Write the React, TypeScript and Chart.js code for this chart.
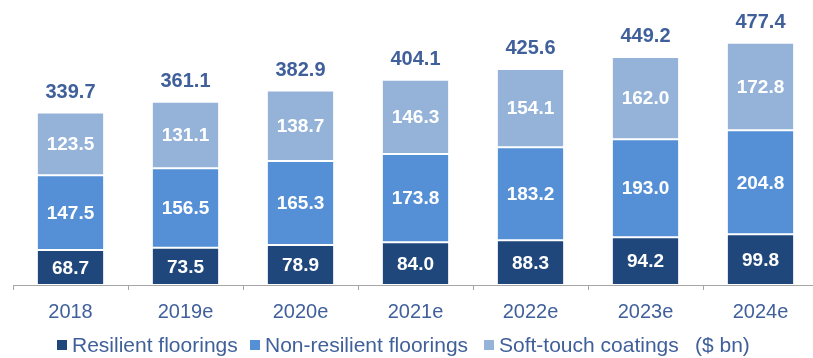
import React, { useEffect, useRef } from "react";
import { Chart, registerables } from "chart.js";

Chart.register(...registerables);

const categories = ["2018", "2019e", "2020e", "2021e", "2022e", "2023e", "2024e"];
const resilient = [68.7, 73.5, 78.9, 84.0, 88.3, 94.2, 99.8];
const nonResilient = [147.5, 156.5, 165.3, 173.8, 183.2, 193.0, 204.8];
const softTouch = [123.5, 131.1, 138.7, 146.3, 154.1, 162.0, 172.8];
const totals = [339.7, 361.1, 382.9, 404.1, 425.6, 449.2, 477.4];
const seriesNames = ["Resilient floorings", "Non-resilient floorings", "Soft-touch coatings"];
const unitLabel = "($ bn)";

const COLORS = ["#1F477B", "#5590D6", "#95B3D8"];
const TEXT = "#40609B";
const FONT = "'Liberation Sans', Arial, sans-serif";

const labelPlugin = {
  id: "valueLabels",
  afterDatasetsDraw(chart: any) {
    const ctx = chart.ctx;
    ctx.save();
    ctx.textAlign = "center";
    ctx.textBaseline = "middle";
    chart.data.datasets.forEach((ds: any, di: number) => {
      const meta = chart.getDatasetMeta(di);
      meta.data.forEach((el: any, i: number) => {
        const v = ds.data[i];
        ctx.fillStyle = "#FFFFFF";
        ctx.font = `bold 19px ${FONT}`;
        ctx.fillText(v.toFixed(1), el.x, (el.y + el.base) / 2 + 1);
      });
    });
    const last = chart.getDatasetMeta(chart.data.datasets.length - 1);
    last.data.forEach((el: any, i: number) => {
      ctx.fillStyle = TEXT;
      ctx.font = `bold 20px ${FONT}`;
      ctx.fillText(totals[i].toFixed(1), el.x, el.y - 20);
    });
    ctx.restore();
  },
};

export default function App() {
  const ref = useRef<HTMLCanvasElement>(null);
  useEffect(() => {
    if (!ref.current) return;
    const chart = new Chart(ref.current, {
      type: "bar",
      data: {
        labels: categories,
        datasets: [resilient, nonResilient, softTouch].map((d, i) => ({
          label: seriesNames[i],
          data: d,
          backgroundColor: COLORS[i],
          borderColor: "rgba(255,255,255,0.45)",
          borderWidth: 1,
          borderSkipped: false,
          categoryPercentage: 1,
          barPercentage: 0.585,
        })),
      },
      options: {
        animation: false,
        responsive: false,
        devicePixelRatio: 1,
        layout: { padding: { top: 21, left: 13, right: 12, bottom: 0 } },
        plugins: { legend: { display: false }, tooltip: { enabled: false } },
        scales: {
          x: {
            stacked: true,
            grid: { drawOnChartArea: false, drawTicks: true, tickLength: 5, color: "#A6A6A6", offset: true },
            border: { display: true, color: "#A6A6A6", width: 1 },
            ticks: { color: TEXT, font: { family: FONT, size: 20 }, padding: 10 },
          },
          y: { stacked: true, display: false, min: 0, max: 520 },
        },
      },
      plugins: [labelPlugin],
    });
    return () => chart.destroy();
  }, []);

  const legendItems = [
    { left: 57, text: seriesNames[0], color: COLORS[0] },
    { left: 250, text: seriesNames[1], color: COLORS[1] },
    { left: 484, text: seriesNames[2], color: COLORS[2] },
  ];

  return (
    <div style={{ position: "absolute", left: 0, top: 0, width: 813, height: 358, overflow: "hidden", background: "#fff", fontFamily: FONT }}>
      <canvas ref={ref} width={830} height={334} style={{ position: "absolute", left: 0, top: 0, width: 830, height: 334 }} />
      {legendItems.map((it) => (
        <div key={it.text} style={{ position: "absolute", left: it.left, top: 333, height: 24, display: "flex", alignItems: "center", color: TEXT, fontSize: 21, whiteSpace: "nowrap" }}>
          <span style={{ display: "inline-block", width: 10, height: 10, background: it.color, marginRight: 5 }} />
          <span>{it.text}</span>
        </div>
      ))}
      <div style={{ position: "absolute", left: 695, top: 333, height: 24, display: "flex", alignItems: "center", color: TEXT, fontSize: 21, whiteSpace: "nowrap" }}>
        {unitLabel}
      </div>
    </div>
  );
}
